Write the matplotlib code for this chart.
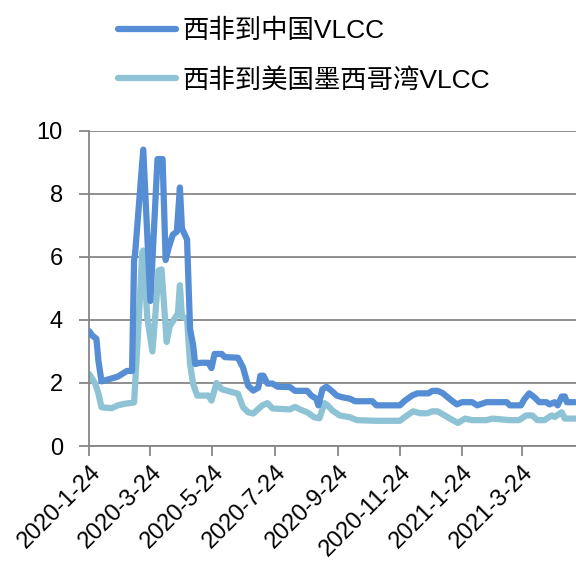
import pandas as pd
import matplotlib
matplotlib.use("Agg")
import matplotlib.pyplot as plt

plt.rcParams['font.family'] = ['Liberation Sans', 'Noto Sans CJK SC', 'DejaVu Sans']

# 西非到中国VLCC
china_dates = ['2020-01-24', '2020-01-27', '2020-01-31', '2020-02-02', '2020-02-05', '2020-02-21',
               '2020-03-01', '2020-03-06', '2020-03-08', '2020-03-09', '2020-03-17', '2020-03-24',
               '2020-03-31', '2020-04-05', '2020-04-08', '2020-04-11', '2020-04-15', '2020-04-19',
               '2020-04-22', '2020-04-24', '2020-04-29', '2020-05-02', '2020-05-05', '2020-05-07',
               '2020-05-12', '2020-05-20', '2020-05-23', '2020-05-26', '2020-06-02', '2020-06-05',
               '2020-06-18', '2020-06-23', '2020-06-28', '2020-07-03', '2020-07-08', '2020-07-10',
               '2020-07-13', '2020-07-17', '2020-07-22', '2020-07-27', '2020-08-08', '2020-08-13',
               '2020-08-25', '2020-08-29', '2020-09-03', '2020-09-05', '2020-09-09', '2020-09-13',
               '2020-09-18', '2020-09-23', '2020-09-28', '2020-10-06', '2020-10-11', '2020-10-28',
               '2020-11-01', '2020-11-24', '2020-11-29', '2020-12-06', '2020-12-11', '2020-12-22',
               '2020-12-26', '2020-12-31', '2021-01-05', '2021-01-14', '2021-01-19', '2021-01-24',
               '2021-02-03', '2021-02-08', '2021-02-17', '2021-03-09', '2021-03-12', '2021-03-23',
               '2021-03-26', '2021-03-31', '2021-04-05', '2021-04-10', '2021-04-17', '2021-04-20',
               '2021-04-25', '2021-04-28', '2021-05-02', '2021-05-05', '2021-05-07', '2021-05-15']
china_vals = [3.64, 3.5, 3.4, 2.7, 2.05, 2.2,
              2.38, 2.38, 5.9, 6.1, 9.4, 4.6,
              9.1, 9.1, 5.9, 6.3, 6.7, 6.8,
              8.2, 6.9, 6.55, 3.7, 3.2, 2.6,
              2.64, 2.64, 2.47, 2.92, 2.92, 2.82,
              2.8, 2.49, 1.91, 1.76, 1.85, 2.23,
              2.23, 1.98, 1.98, 1.88, 1.87, 1.75,
              1.75, 1.6, 1.5, 1.29, 1.8, 1.88,
              1.75, 1.6, 1.55, 1.5, 1.42, 1.42,
              1.29, 1.29, 1.44, 1.6, 1.67, 1.67,
              1.75, 1.75, 1.68, 1.44, 1.32, 1.39,
              1.39, 1.29, 1.39, 1.39, 1.29, 1.29,
              1.47, 1.67, 1.55, 1.39, 1.39, 1.32,
              1.39, 1.29, 1.57, 1.57, 1.39, 1.39]

# 西非到美国墨西哥湾VLCC
usg_dates = ['2020-01-24', '2020-01-30', '2020-02-02', '2020-02-05', '2020-02-15', '2020-02-21',
             '2020-02-28', '2020-03-08', '2020-03-12', '2020-03-16', '2020-03-17', '2020-03-21',
             '2020-03-26', '2020-03-29', '2020-04-01', '2020-04-04', '2020-04-09', '2020-04-12',
             '2020-04-17', '2020-04-20', '2020-04-22', '2020-04-24', '2020-04-29', '2020-05-02',
             '2020-05-05', '2020-05-09', '2020-05-20', '2020-05-23', '2020-05-28', '2020-06-02',
             '2020-06-18', '2020-06-23', '2020-06-28', '2020-07-03', '2020-07-12', '2020-07-17',
             '2020-07-22', '2020-08-08', '2020-08-13', '2020-08-18', '2020-08-25', '2020-09-01',
             '2020-09-06', '2020-09-11', '2020-09-14', '2020-09-19', '2020-09-26', '2020-10-06',
             '2020-10-13', '2020-11-01', '2020-11-24', '2020-11-29', '2020-12-07', '2020-12-14',
             '2020-12-21', '2020-12-26', '2020-12-31', '2021-01-07', '2021-01-15', '2021-01-20',
             '2021-01-27', '2021-02-03', '2021-02-17', '2021-02-23', '2021-03-12', '2021-03-21',
             '2021-03-28', '2021-04-03', '2021-04-08', '2021-04-15', '2021-04-22', '2021-04-25',
             '2021-05-02', '2021-05-05', '2021-05-15']
usg_vals = [2.28, 1.97, 1.66, 1.23, 1.2, 1.29,
            1.34, 1.38, 3.64, 6.14, 6.2, 4.05,
            3.0, 4.2, 5.57, 5.6, 3.3, 3.8,
            4.05, 4.2, 5.1, 4.1, 4.05, 2.6,
            1.97, 1.6, 1.6, 1.44, 2.0, 1.8,
            1.66, 1.23, 1.07, 1.03, 1.29, 1.36,
            1.19, 1.16, 1.24, 1.16, 1.07, 0.91,
            0.88, 1.36, 1.29, 1.12, 0.97, 0.91,
            0.82, 0.8, 0.8, 0.92, 1.1, 1.04,
            1.04, 1.1, 1.1, 0.97, 0.82, 0.73,
            0.87, 0.82, 0.82, 0.87, 0.82, 0.82,
            0.97, 0.97, 0.82, 0.82, 0.97, 0.92,
            1.07, 0.87, 0.87]

tick_dates = ['2020-01-24', '2020-03-24', '2020-05-24', '2020-07-24',
              '2020-09-24', '2020-11-24', '2021-01-24', '2021-03-24']
tick_labels = ['2020-1-24', '2020-3-24', '2020-5-24', '2020-7-24',
               '2020-9-24', '2020-11-24', '2021-1-24', '2021-3-24']

fig = plt.figure(figsize=(5.76, 5.66), dpi=100)
ax = fig.add_axes([0.155, 0.212, 0.845, 0.557])

grey = '#868686'
ax.plot(pd.to_datetime(china_dates), china_vals, color='#558ED5', lw=4.5,
        solid_joinstyle='round', solid_capstyle='round', label='西非到中国VLCC', zorder=3)
ax.plot(pd.to_datetime(usg_dates), usg_vals, color='#8EC3D5', lw=4.5,
        solid_joinstyle='round', solid_capstyle='round', label='西非到美国墨西哥湾VLCC', zorder=2)

ax.set_ylim(0, 10)
ax.set_yticks([0, 2, 4, 6, 8, 10])
ax.set_xlim(pd.Timestamp('2020-01-24'), pd.Timestamp('2021-05-16'))
ax.set_xticks(pd.to_datetime(tick_dates))
ax.set_xticklabels(tick_labels, rotation=45, ha='right', rotation_mode='anchor')

ax.grid(axis='y', color=grey, lw=1.3)
ax.set_axisbelow(True)
for side in ['top', 'right']:
    ax.spines[side].set_visible(False)
for side in ['left', 'bottom']:
    ax.spines[side].set_color(grey)
    ax.spines[side].set_linewidth(1.3)
ax.tick_params(axis='both', colors=grey, labelcolor='black', labelsize=17, width=1.3, length=7)
ax.tick_params(axis='y', pad=12)
ax.tick_params(axis='x', pad=4)

ax.legend(loc='upper left', bbox_to_anchor=(0.205, 0.967), bbox_transform=fig.transFigure,
          frameon=False, fontsize=19, handlelength=2.2, handletextpad=0.25,
          labelspacing=0.95, borderpad=0, borderaxespad=0)

fig.savefig('out.png', dpi=100)
